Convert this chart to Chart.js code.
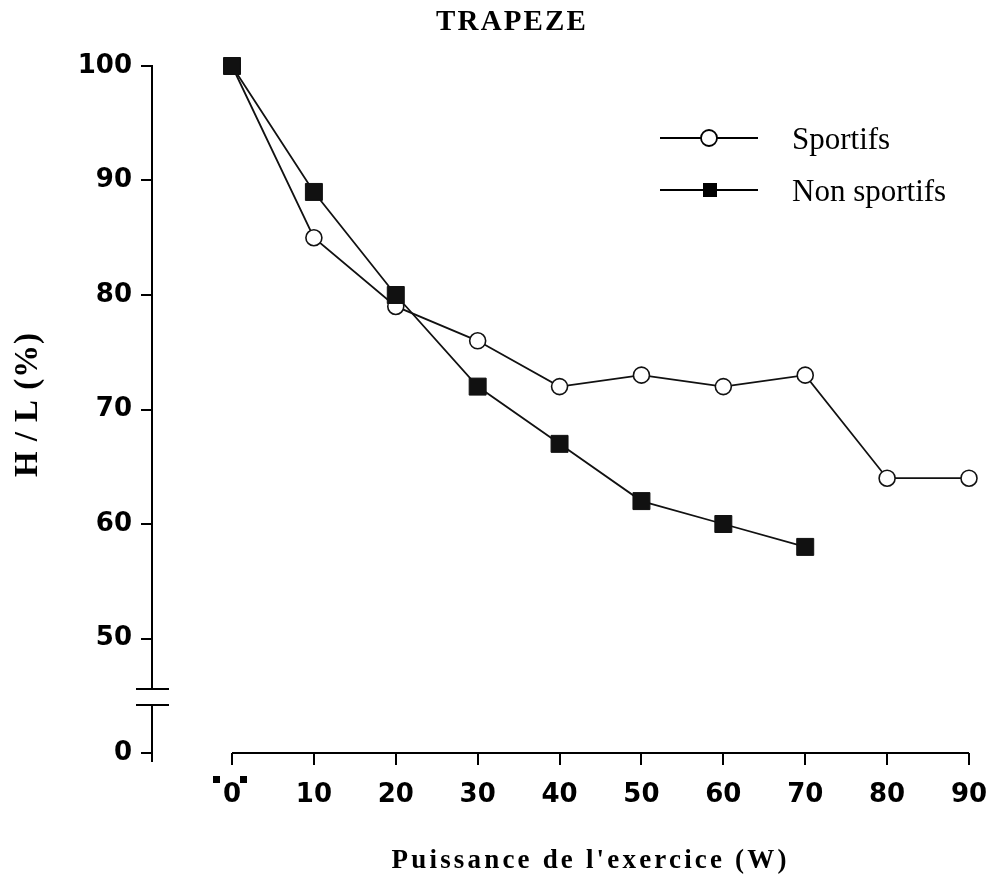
<!DOCTYPE html>
<html>
<head>
<meta charset="utf-8">
<script src="https://cdn.jsdelivr.net/npm/chart.js@4.4.1/dist/chart.umd.min.js"></script>
<style>
  html, body { margin: 0; padding: 0; background: #fff; }
</style>
</head>
<body>
<canvas id="chart" width="990" height="885"></canvas>
<script>
const puissance = [0, 10, 20, 30, 40, 50, 60, 70, 80, 90];
const sportifs = [100, 85, 79, 76, 72, 73, 72, 73, 64, 64];
const nonSportifs = [100, 89, 80, 72, 67, 62, 60, 58];
const xTicks = [0, 10, 20, 30, 40, 50, 60, 70, 80, 90];
// the y axis is broken: the lowest tick stands for 0
const yTicks = [40, 50, 60, 70, 80, 90, 100];
const yTickLabels = ["0", "50", "60", "70", "80", "90", "100"];

const tickFont = { family: "DejaVu Sans", size: 26, weight: "bold" };

function spacedText(ctx, text, cx, cy, width) {
  ctx.letterSpacing = "0px";
  const w = ctx.measureText(text).width;
  const gap = Math.max(0, (width - w) / text.length);
  ctx.letterSpacing = gap + "px";
  ctx.fillText(text, cx + gap / 2, cy);
  ctx.letterSpacing = "0px";
}

const decor = {
  id: "decor",
  afterDraw(chart) {
    const ctx = chart.ctx;
    const x = chart.scales.x, y = chart.scales.y;
    const area = chart.chartArea;
    ctx.save();
    ctx.strokeStyle = "#000";
    ctx.fillStyle = "#000";
    ctx.lineWidth = 2;

    // x axis line only from 0 to 90
    ctx.beginPath();
    ctx.moveTo(x.getPixelForValue(0), area.bottom);
    ctx.lineTo(x.getPixelForValue(90), area.bottom);
    // y axis runs a little under the 0 tick
    ctx.moveTo(area.left, area.bottom);
    ctx.lineTo(area.left, area.bottom + 9);
    ctx.stroke();

    // axis break
    const b1 = y.getPixelForValue(45.6), b2 = y.getPixelForValue(44.2);
    ctx.fillStyle = "#fff";
    ctx.fillRect(area.left - 3, b1, 6, b2 - b1);
    ctx.beginPath();
    ctx.moveTo(area.left - 16, b1); ctx.lineTo(area.left + 17, b1);
    ctx.moveTo(area.left - 16, b2); ctx.lineTo(area.left + 17, b2);
    ctx.stroke();

    // little marks around the 0 label
    ctx.fillStyle = "#000";
    const x0 = x.getPixelForValue(0);
    ctx.fillRect(x0 - 19, area.bottom + 23, 7, 7);
    ctx.fillRect(x0 + 8, area.bottom + 23, 7, 7);

    // titles
    ctx.textAlign = "center";
    ctx.textBaseline = "middle";
    ctx.font = "bold 29px 'Liberation Serif'";
    spacedText(ctx, "TRAPEZE", 511, 23, 152);
    ctx.font = "bold 27px 'Liberation Serif'";
    spacedText(ctx, "Puissance de l'exercice (W)", 589, 861, 398);
    ctx.save();
    ctx.translate(28, 405);
    ctx.rotate(-Math.PI / 2);
    ctx.font = "bold 33px 'Liberation Serif'";
    spacedText(ctx, "H / L (%)", 0, 0, 145);
    ctx.restore();

    // legend
    ctx.textAlign = "left";
    ctx.font = "31px 'Liberation Serif'";
    chart.data.datasets.forEach((ds, i) => {
      const ly = 138 + i * 52;
      ctx.strokeStyle = "#000";
      ctx.lineWidth = 1.8;
      ctx.beginPath();
      ctx.moveTo(660, ly);
      ctx.lineTo(758, ly);
      ctx.stroke();
      if (ds.pointStyle === "circle") {
        ctx.fillStyle = "#fff";
        ctx.beginPath();
        ctx.arc(709, ly, 8, 0, Math.PI * 2);
        ctx.fill();
        ctx.stroke();
      } else {
        ctx.fillStyle = "#000";
        ctx.fillRect(703, ly - 7, 14, 14);
      }
      ctx.fillStyle = "#000";
      ctx.fillText(ds.label, 792, ly + 3);
    });
    ctx.restore();
  }
};

new Chart(document.getElementById("chart"), {
  type: "line",
  plugins: [decor],
  data: {
    datasets: [
      {
        label: "Sportifs",
        data: sportifs.map((v, i) => ({ x: puissance[i], y: v })),
        borderColor: "#111",
        borderWidth: 1.8,
        pointStyle: "circle",
        pointRadius: 8,
        pointBackgroundColor: "#fff",
        pointBorderColor: "#111",
        pointBorderWidth: 1.6,
        tension: 0,
        clip: false,
        order: 1
      },
      {
        label: "Non sportifs",
        data: nonSportifs.map((v, i) => ({ x: puissance[i], y: v })),
        borderColor: "#111",
        borderWidth: 1.8,
        pointStyle: "rect",
        pointRadius: 12,
        pointBackgroundColor: "#111",
        pointBorderColor: "#111",
        pointBorderWidth: 1,
        tension: 0,
        clip: false,
        order: 0
      }
    ]
  },
  options: {
    responsive: false,
    animation: false,
    events: [],
    layout: { padding: { top: 66, right: 21, left: 0, bottom: 0 } },
    plugins: {
      legend: { display: false },
      title: { display: false },
      tooltip: { enabled: false }
    },
    scales: {
      x: {
        type: "linear",
        min: -9.77,
        max: 90,
        afterBuildTicks: (scale) => { scale.ticks = xTicks.map(v => ({ value: v })); },
        afterFit: (scale) => {
          scale.height = 885 - 753;
          scale.paddingLeft = 0;
          scale.paddingRight = 0;
        },
        border: { display: false },
        grid: { drawOnChartArea: false, drawTicks: true, tickLength: 12, color: "#000", lineWidth: 2 },
        ticks: { color: "#000", font: tickFont, padding: 15, maxRotation: 0, autoSkip: false }
      },
      y: {
        type: "linear",
        min: 40,
        max: 100,
        afterBuildTicks: (scale) => { scale.ticks = yTicks.map(v => ({ value: v })); },
        afterFit: (scale) => {
          scale.width = 152;
          scale.paddingTop = 0;
          scale.paddingBottom = 0;
        },
        border: { display: true, color: "#000", width: 2 },
        grid: { drawOnChartArea: false, drawTicks: true, tickLength: 11, color: "#000", lineWidth: 2 },
        ticks: {
          color: "#000",
          font: tickFont,
          padding: 9,
          callback: (v, i) => yTickLabels[i]
        }
      }
    }
  }
});
</script>
</body>
</html>
